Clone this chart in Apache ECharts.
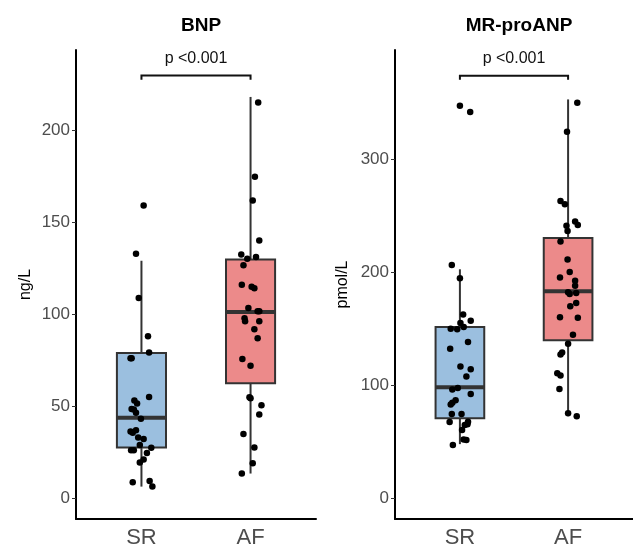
<!DOCTYPE html>
<html>
<head>
    <meta charset="utf-8" />
    <title>BNP / MR-proANP</title>
    <script src="https://cdn.jsdelivr.net/npm/echarts@6/dist/echarts.min.js"></script>
</head>
<body style="margin:0;">
    <div id="main" style="width:633px;height:549px;"></div>
    <script type="text/javascript">
        var groups = ['SR', 'AF'];
        var boxColors = ['#9bbfdf', '#ec8a8a'];

        // box stats: [whisker low, q1, median, q3, whisker high]
        var bnpBox = [[6.3, 27.6, 43.7, 78.9, 129], [13.4, 62.5, 101.2, 129.7, 218]];
        var mrBox = [[47.8, 70.6, 98, 151.4, 202.4], [72.6, 139.7, 182.9, 230, 352.6]];

        // jittered points: value and horizontal offset from group centre
        var bnpSR = [159, 132.8, 108.8, 88, 79.2, 76, 76, 55, 53.1, 51.5, 48.5, 48.2, 46.4, 43.2, 36.9,
            36.2, 35.6, 33, 32.1, 28.9, 27.4, 26, 26, 24.5, 21, 19.4, 9.3, 8.6, 6.3];
        var bnpSRx = [0.02, -0.05, -0.025, 0.06, 0.07, -0.10, -0.09, 0.07, -0.065, -0.04, -0.09, -0.07, -0.05, -0.005, -0.05,
            -0.10, -0.08, -0.03, 0.02, -0.015, 0.09, -0.095, -0.07, 0.05, 0.02, -0.015, 0.075, -0.08, 0.10];
        var bnpAF = [215, 174.7, 161.8, 140, 132.4, 131, 130.1, 126.5, 116, 114.9, 114, 103.4, 101.6, 101.6, 97.7,
            96.2, 96.1, 91.8, 86.9, 75.6, 71.9, 54.8, 54.3, 50.5, 45.5, 34.9, 27.6, 19, 13.4];
        var bnpAFx = [0.07, 0.04, 0.02, 0.08, -0.085, 0.05, -0.03, -0.065, -0.08, 0.01, 0.035, -0.02, 0.065, 0.08, -0.055,
            -0.05, 0.08, 0.035, 0.065, -0.075, 0, -0.01, 0, 0.10, 0.08, -0.065, 0.035, 0.02, -0.08];
        var mrSR = [347, 341.5, 206.2, 194.5, 162.5, 156.9, 154.9, 151.4, 149.9, 149.3, 138.2, 132.1, 116.4, 114, 107.6,
            97.4, 96, 92.1, 86.6, 84.3, 82.9, 74.4, 74.4, 67.6, 67.4, 65.4, 64.7, 60.4, 51.9, 51.4, 47];
        var mrSRx = [0, 0.095, -0.075, 0, 0.03, 0.10, 0.005, 0.035, -0.085, -0.025, 0.075, -0.09, 0.005, 0.10, 0.06,
            -0.02, -0.07, 0.10, -0.04, -0.07, -0.085, -0.075, 0.015, 0.075, -0.095, 0.07, 0.045, 0.02, 0.035, 0.06, -0.065];
        var mrAF = [349.7, 324, 262.7, 259.8, 244.7, 241.5, 240.9, 236.2, 226.9, 211.1, 200.1, 195.1, 192.2, 187.8, 182,
            180.5, 181.4, 172.6, 169.7, 160.1, 159.5, 144.6, 136.5, 128.9, 127.1, 110.5, 108.5, 96.5, 75, 72.4];
        var mrAFx = [0.085, -0.01, -0.07, -0.03, 0.065, 0.09, -0.015, -0.005, -0.07, -0.005, 0.015, -0.075, 0.065, 0.065, 0,
            0.015, 0.075, 0.075, 0.02, -0.075, 0.09, 0.045, 0, -0.055, -0.07, -0.10, -0.07, -0.08, 0, 0.08];

        var bnpTicks = [0, 50, 100, 150, 200];
        var mrTicks = [0, 100, 200, 300];
        var pText = 'p <0.001';

        var font = '"Liberation Sans", Arial, sans-serif';

        function points(vals, offs, grp) {
            return vals.map(function (v, i) { return [grp + 1 + offs[i], v]; });
        }

        function boxData(stats) {
            return stats.map(function (s, i) { return [i + 1].concat(s).concat([i]); });
        }

        function renderBox(params, api) {
            var x = api.value(0);
            var lo = api.coord([x, api.value(1)]);
            var q1 = api.coord([x, api.value(2)]);
            var md = api.coord([x, api.value(3)]);
            var q3 = api.coord([x, api.value(4)]);
            var hi = api.coord([x, api.value(5)]);
            var l = api.coord([x - 0.225, 0])[0];
            var r = api.coord([x + 0.225, 0])[0];
            var ln = { stroke: '#333333', lineWidth: 2 };
            return {
                type: 'group',
                children: [
                    { type: 'line', shape: { x1: hi[0], y1: hi[1], x2: q3[0], y2: q3[1] }, style: ln },
                    { type: 'line', shape: { x1: q1[0], y1: q1[1], x2: lo[0], y2: lo[1] }, style: ln },
                    { type: 'rect', shape: { x: l, y: q3[1], width: r - l, height: q1[1] - q3[1] },
                      style: { fill: boxColors[api.value(6)], stroke: '#333333', lineWidth: 2 } },
                    { type: 'line', shape: { x1: l, y1: md[1], x2: r, y2: md[1] },
                      style: { stroke: '#333333', lineWidth: 4 } }
                ]
            };
        }

        // bracket: [yValue, tipDrop(value units), textY]
        function renderBracket(params, api) {
            var y = api.value(0), drop = api.value(1), ty = api.value(2);
            var a = api.coord([1, y]), b = api.coord([2, y]);
            var a2 = api.coord([1, y - drop]), b2 = api.coord([2, y - drop]);
            var t = api.coord([1.5, ty]);
            return {
                type: 'group',
                children: [
                    { type: 'polyline', shape: { points: [[a2[0], a2[1]], [a[0], a[1]], [b[0], b[1]], [b2[0], b2[1]]] },
                      style: { stroke: '#111111', lineWidth: 2, fill: null } },
                    { type: 'text', x: t[0], y: t[1],
                      style: { text: pText, fill: '#111111', font: '16px ' + font, align: 'center', verticalAlign: 'middle' } }
                ]
            };
        }

        function xAxis(idx) {
            return {
                gridIndex: idx, type: 'value', min: 0.4, max: 2.6,
                splitLine: { show: false },
                axisLine: { show: true, onZero: false, lineStyle: { color: '#000', width: 2 } },
                axisTick: { show: false },
                axisLabel: {
                    customValues: [1, 2], margin: 8, color: '#4d4d4d', fontSize: 22, fontFamily: font,
                    formatter: function (v) { return groups[Math.round(v) - 1]; }
                }
            };
        }

        function yAxis(idx, min, max, ticks, name, gap) {
            return {
                gridIndex: idx, type: 'value', min: min, max: max,
                name: name, nameLocation: 'middle', nameGap: gap, nameRotate: 90,
                nameTextStyle: { color: '#000', fontSize: 16, fontFamily: font },
                splitLine: { show: false },
                axisLine: { show: true, onZero: false, lineStyle: { color: '#000', width: 2 } },
                axisTick: { show: true, customValues: ticks, length: 4, lineStyle: { color: '#333', width: 1 } },
                axisLabel: { customValues: ticks, margin: 6, color: '#4d4d4d', fontSize: 17, fontFamily: font }
            };
        }

        var myChart = echarts.init(document.getElementById('main'));
        var dot = { color: '#000', opacity: 1 };
        myChart.setOption({
            animation: false,
            backgroundColor: '#fff',
            title: [
                { text: 'BNP', left: 196, top: 11, textAlign: 'center',
                  textStyle: { fontSize: 19, fontWeight: 'bold', color: '#000', fontFamily: font } },
                { text: 'MR-proANP', left: 514, top: 11, textAlign: 'center',
                  textStyle: { fontSize: 19, fontWeight: 'bold', color: '#000', fontFamily: font } }
            ],
            grid: [
                { left: 76, top: 50, width: 240, height: 474 },
                { left: 395, top: 50, width: 238, height: 474 }
            ],
            xAxis: [xAxis(0), xAxis(1)],
            yAxis: [
                yAxis(0, -11.3, 243.5, bnpTicks, 'ng/L', 42),
                yAxis(1, -18.4, 396.3, mrTicks, 'pmol/L', 44)
            ],
            series: [
                { type: 'custom', xAxisIndex: 0, yAxisIndex: 0, renderItem: renderBox, data: boxData(bnpBox), z: 1 },
                { type: 'custom', xAxisIndex: 1, yAxisIndex: 1, renderItem: renderBox, data: boxData(mrBox), z: 1 },
                { type: 'custom', xAxisIndex: 0, yAxisIndex: 0, renderItem: renderBracket, data: [[229.6, 2.3, 239]], z: 1 },
                { type: 'custom', xAxisIndex: 1, yAxisIndex: 1, renderItem: renderBracket, data: [[373.5, 3.6, 389]], z: 1 },
                { type: 'scatter', xAxisIndex: 0, yAxisIndex: 0, symbolSize: 6.5, itemStyle: dot, z: 3,
                  data: points(bnpSR, bnpSRx, 0).concat(points(bnpAF, bnpAFx, 1)) },
                { type: 'scatter', xAxisIndex: 1, yAxisIndex: 1, symbolSize: 6.5, itemStyle: dot, z: 3,
                  data: points(mrSR, mrSRx, 0).concat(points(mrAF, mrAFx, 1)) }
            ]
        });
    </script>
</body>
</html>
